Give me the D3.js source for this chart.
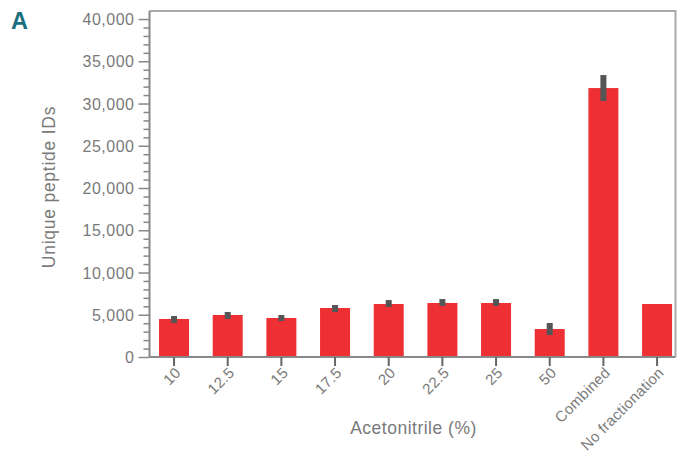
<!DOCTYPE html>
<html><head><meta charset="utf-8">
<script src="https://cdn.jsdelivr.net/npm/d3@7"></script>
<style>body{margin:0;background:#fff}svg{display:block}text{font-family:"Liberation Sans",Arial,sans-serif}</style>
</head><body><svg id="c" width="684" height="456"></svg>
<script>
const categories = ["10","12.5","15","17.5","20","22.5","25","50","Combined","No fractionation"];
const values = [4500, 4970, 4620, 5800, 6270, 6390, 6390, 3310, 31830, 6270];
const errLow = [4020, 4500, 4260, 5320, 5920, 6040, 6040, 2600, 30300, null];
const errHigh = [4850, 5330, 4970, 6150, 6740, 6860, 6860, 4020, 33370, null];
const yTicks = [0,5000,10000,15000,20000,25000,30000,35000,40000];

(function(){
const svg = d3.select("#c");
const pL = 149.5, pR = 675.5, pT = 11, pB = 357;
const y = d3.scaleLinear().domain([0, 40950]).range([pB, pT]);
const x = d3.scaleBand().domain(categories).range([147.2, 683.9]).paddingInner(0.44).paddingOuter(0.22);
const bw = 30;
const tc = "#7a7a7a";

svg.append("path").attr("d",`M${pL},${pT}H${pR}V${pB}`).attr("fill","none").attr("stroke","#aaa").attr("stroke-width",2);

svg.selectAll("rect.bar").data(categories).join("rect").attr("class","bar")
 .attr("x",d=>x(d)+x.bandwidth()/2-bw/2).attr("width",bw)
 .attr("y",(d,i)=>y(values[i])).attr("height",(d,i)=>y(0)-y(values[i])).attr("fill","#ee3035");

svg.selectAll("rect.err").data(categories.filter((d,i)=>errLow[i]!=null)).join("rect").attr("class","err")
 .attr("x",d=>x(d)+x.bandwidth()/2-3).attr("width",6)
 .attr("y",d=>y(errHigh[categories.indexOf(d)])).attr("height",d=>{const i=categories.indexOf(d);return y(errLow[i])-y(errHigh[i]);})
 .attr("fill","#555");

const minor = d3.range(0, 40001, 1000).filter(v=>v%5000!==0);
svg.append("g").attr("transform",`translate(${pL},0)`).call(d3.axisLeft(y).tickValues(minor).tickSize(6).tickFormat(""))
 .call(g=>{g.select(".domain").remove();g.selectAll("line").attr("stroke","#888").attr("stroke-width",1.5);});
const ya = svg.append("g").attr("transform",`translate(${pL},0)`)
 .call(d3.axisLeft(y).tickValues(yTicks).tickSize(11).tickPadding(4).tickFormat(d3.format(",")));
ya.select(".domain").attr("d",`M0,${pT}V${pB}`).attr("stroke","#888").attr("stroke-width",2);
ya.selectAll("line").attr("stroke","#888").attr("stroke-width",1.5);
ya.selectAll("text").attr("fill",tc).style("font-size","16px").style("letter-spacing","0.5px").attr("dy","0.35em");

const xa = svg.append("g").attr("transform",`translate(0,${pB})`)
 .call(d3.axisBottom(x).tickSize(9).tickPadding(4));
xa.select(".domain").attr("d",`M${pL},0H${pR}`).attr("stroke","#888").attr("stroke-width",2);
xa.selectAll("line").attr("stroke","#666").attr("stroke-width",2);
xa.selectAll("text").attr("fill",tc).style("font-size","15px").style("letter-spacing","0.3px")
 .attr("text-anchor","end").attr("transform","translate(-4,5) rotate(-45)").attr("dy","0.7em").attr("y",6);

svg.append("text").attr("x",413.5).attr("y",434).attr("text-anchor","middle").attr("fill",tc).style("font-size","17.5px").style("letter-spacing","0.5px").text("Acetonitrile (%)");
svg.append("text").attr("transform","translate(55,187) rotate(-90)").attr("text-anchor","middle").attr("fill",tc).style("font-size","17.5px").style("letter-spacing","0.75px").text("Unique peptide IDs");
svg.append("text").attr("x",11).attr("y",29).attr("fill","#1b6e80").style("font-size","23.5px").style("font-weight","bold").text("A");
})();
</script></body></html>
